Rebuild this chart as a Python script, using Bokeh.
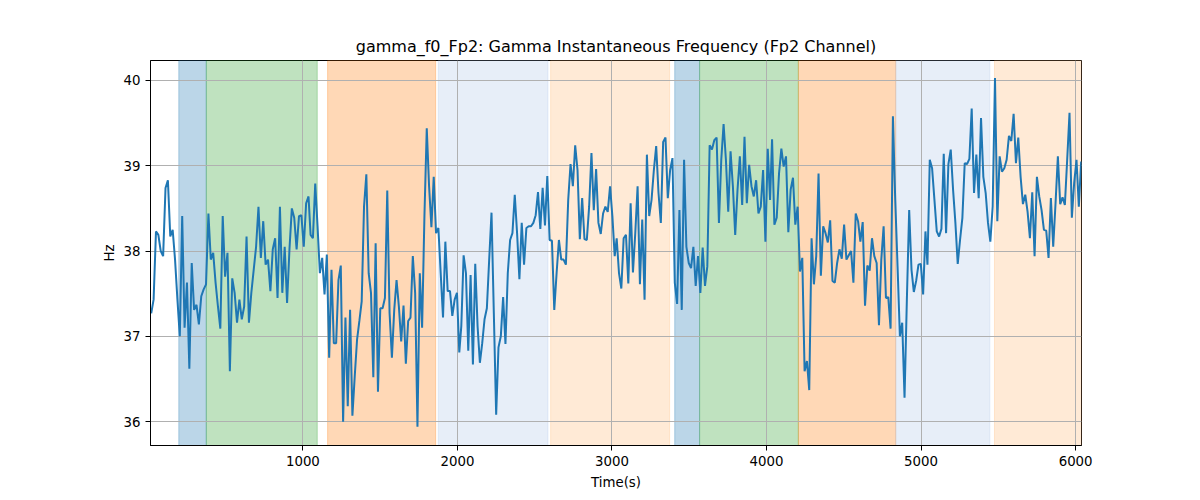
import numpy as np
from bokeh.plotting import figure
from bokeh.models import BoxAnnotation, Range1d, FixedTicker, ColumnDataSource
from bokeh.embed import file_html
from bokeh.resources import INLINE

# --- data: gamma instantaneous frequency (Hz), read in six time segments ---
seg_bounds = [(18.6, 1036.5), (1049.8, 2012.0), (2025.0, 3017.6),
              (3030.4, 4022.9), (4035.8, 5028.3), (5041.2, 6035.8)]

seg1_vals = [37.27, 37.43, 38.23, 38.19, 38.00, 37.94, 38.74, 38.83, 38.17, 38.25,
             37.90, 37.43, 37.00, 38.41, 37.10, 37.63, 36.62, 37.86, 37.31, 37.37,
             37.14, 37.47, 37.55, 37.61, 38.44, 37.90, 37.98, 37.63, 37.35, 37.09,
             38.41, 37.70, 37.98, 36.59, 37.68, 37.51, 37.16, 37.43, 37.20, 37.35,
             38.17, 37.16, 37.51, 37.78, 38.05, 38.52, 37.92, 38.35, 37.84, 37.90,
             37.53, 38.02, 38.15, 37.45, 38.52, 37.51, 38.05, 37.39, 38.02, 38.50,
             38.39, 38.02, 38.41, 38.42, 38.05, 38.56, 38.64]
seg2_vals = [38.19, 38.15, 38.79, 38.29, 37.74, 37.92, 37.49, 37.96, 36.75, 37.78,
             36.92, 36.92, 37.66, 37.83, 36.00, 37.22, 36.18, 37.31, 36.07, 36.53,
             36.96, 37.18, 37.41, 38.52, 38.90, 37.74, 37.51, 36.52, 38.09, 36.35,
             37.33, 37.33, 37.45, 38.71, 37.27, 36.75, 37.31, 37.66, 37.35, 36.94,
             37.36, 36.68, 37.18, 37.22, 37.94, 37.51, 35.94, 37.74, 37.10, 38.41,
             39.44, 38.76, 38.28, 38.87, 38.21, 38.27, 37.74, 37.22, 38.11, 37.53,
             37.53, 37.24, 37.43, 37.51, 36.81]
seg3_vals = [37.12, 37.95, 37.74, 36.83, 37.72, 36.67, 37.85, 37.12, 36.69, 36.92,
             37.20, 37.33, 37.90, 38.45, 37.27, 36.08, 36.87, 37.00, 37.46, 36.91,
             37.74, 38.13, 38.21, 38.66, 38.21, 37.67, 38.33, 37.84, 38.27, 38.29,
             38.29, 38.33, 38.42, 38.69, 38.26, 38.74, 38.30, 38.88, 38.13, 38.12,
             37.31, 37.74, 38.13, 37.90, 37.90, 37.84, 38.60, 39.02, 38.76, 39.24,
             38.95, 38.14, 38.62, 38.14, 38.13, 38.52, 39.15, 38.48, 38.96, 38.33,
             38.20, 38.44, 38.52, 38.46, 38.76, 38.41, 37.94]
seg4_vals = [38.15, 37.74, 37.56, 38.15, 38.19, 37.62, 38.56, 37.75, 38.21, 38.76,
             37.61, 38.37, 37.43, 39.13, 38.41, 38.60, 38.95, 39.23, 38.68, 38.33,
             39.28, 39.33, 38.62, 38.95, 39.09, 37.63, 37.38, 38.48, 37.31, 39.07,
             38.05, 37.86, 37.80, 38.05, 37.59, 37.94, 37.51, 38.04, 37.59, 37.82,
             39.24, 39.19, 39.30, 39.33, 38.33, 39.07, 39.49, 39.07, 38.46, 39.17,
             38.76, 38.19, 38.72, 39.11, 38.54, 39.34, 38.56, 39.01, 38.76, 38.64,
             38.83, 38.44, 38.52, 38.95, 38.11, 39.20, 38.60]
seg5_vals = [39.31, 38.31, 38.39, 38.91, 39.20, 38.99, 39.11, 38.22, 38.72, 38.86,
             38.31, 38.52, 37.76, 37.92, 36.59, 36.71, 36.37, 38.15, 37.61, 37.94,
             38.91, 37.71, 38.29, 38.21, 38.10, 38.36, 37.65, 37.63, 37.86, 38.02,
             37.91, 38.31, 37.90, 37.95, 38.00, 37.63, 38.44, 38.35, 38.11, 38.34,
             37.36, 37.83, 37.77, 38.15, 37.94, 37.86, 37.13, 37.90, 38.29, 37.45,
             37.46, 37.09, 39.58, 38.60, 37.82, 37.00, 37.16, 36.28, 37.43, 38.48,
             37.78, 37.52, 37.65, 37.84, 37.85, 37.49, 38.23]
seg6_vals = [37.84, 39.07, 38.97, 38.60, 38.23, 38.17, 38.26, 39.14, 38.21, 39.02,
             39.19, 38.72, 38.33, 37.85, 38.13, 38.39, 39.03, 39.02, 39.08, 39.67,
             38.68, 39.13, 38.62, 39.56, 38.87, 38.68, 38.33, 38.11, 38.52, 40.03,
             38.35, 39.11, 38.93, 38.97, 39.07, 39.35, 39.29, 39.61, 39.03, 39.33,
             38.87, 38.55, 38.66, 38.46, 38.15, 38.69, 37.94, 38.87, 38.64, 38.48,
             38.25, 38.24, 37.92, 38.62, 38.05, 38.56, 39.11, 38.55, 38.63, 38.54,
             39.07, 39.62, 38.39, 38.80, 39.07, 38.52, 39.05]

# shaded phases
span_starts = [197, 375, 1160, 1876, 2603, 3406, 3567, 4206, 4836, 5475]
span_ends = [375, 1093, 1859, 2586, 3373, 3567, 4206, 4836, 5445, 6040]
span_colors = ["#1f77b4", "#2ca02c", "#ff7f0e", "#aec7e8", "#ffbb78",
               "#1f77b4", "#2ca02c", "#ff7f0e", "#aec7e8", "#ffbb78"]
span_alpha = 0.3

x_ticks = [1000, 2000, 3000, 4000, 5000, 6000]
y_ticks = [36, 37, 38, 39, 40]
x_lim = (14, 6038)
y_lim = (35.72, 40.234)

segments = [seg1_vals, seg2_vals, seg3_vals, seg4_vals, seg5_vals, seg6_vals]
times, vals = [], []
for (a, b), v in zip(seg_bounds, segments):
    times.extend(np.linspace(a, b, len(v)).tolist())
    vals.extend(v)
src = ColumnDataSource(data=dict(t=times, hz=vals))

FONT = "DejaVu Sans"
p = figure(width=1200, height=500, output_backend="svg", toolbar_location=None,
           x_range=Range1d(*x_lim), y_range=Range1d(*y_lim),
           title="gamma_f0_Fp2: Gamma Instantaneous Frequency (Fp2 Channel)",
           min_border_left=150, min_border_right=119, min_border_top=60,
           min_border_bottom=55)
p.frame_width = 931
p.frame_height = 385

for s, e, c in zip(span_starts, span_ends, span_colors):
    p.add_layout(BoxAnnotation(left=s, right=e, fill_color=c, fill_alpha=span_alpha,
                               line_color=c, line_alpha=span_alpha, line_width=1,
                               level="image"))

p.line("t", "hz", source=src, line_color="#1f77b4", line_width=2)

p.title.align = "center"
p.title.text_font = FONT
p.title.text_font_size = "16px"
p.title.text_font_style = "normal"
p.title.text_color = "black"

p.xaxis.axis_label = "Time(s)"
p.yaxis.axis_label = "Hz"
for ax in (p.xaxis, p.yaxis):
    ax.axis_label_text_font = FONT
    ax.axis_label_text_font_size = "13.33px"
    ax.axis_label_text_font_style = "normal"
    ax.axis_label_text_color = "black"
    ax.major_label_text_font = FONT
    ax.major_label_text_font_size = "13.33px"
    ax.major_label_text_color = "black"
    ax.major_tick_in = 0
    ax.major_tick_out = 5
    ax.minor_tick_line_color = None
    ax.axis_line_color = "black"
    ax.major_tick_line_color = "black"
p.xaxis.ticker = FixedTicker(ticks=x_ticks)
p.yaxis.ticker = FixedTicker(ticks=y_ticks)
p.xaxis.axis_label_standoff = 6
p.yaxis.axis_label_standoff = 4

p.grid.grid_line_color = "#b0b0b0"
p.grid.grid_line_width = 1
p.xgrid.ticker = FixedTicker(ticks=x_ticks)
p.ygrid.ticker = FixedTicker(ticks=y_ticks)
p.outline_line_color = "black"
p.outline_line_width = 1
p.background_fill_color = "white"
p.border_fill_color = "white"

open("out.html", "w").write(file_html(p, INLINE))
